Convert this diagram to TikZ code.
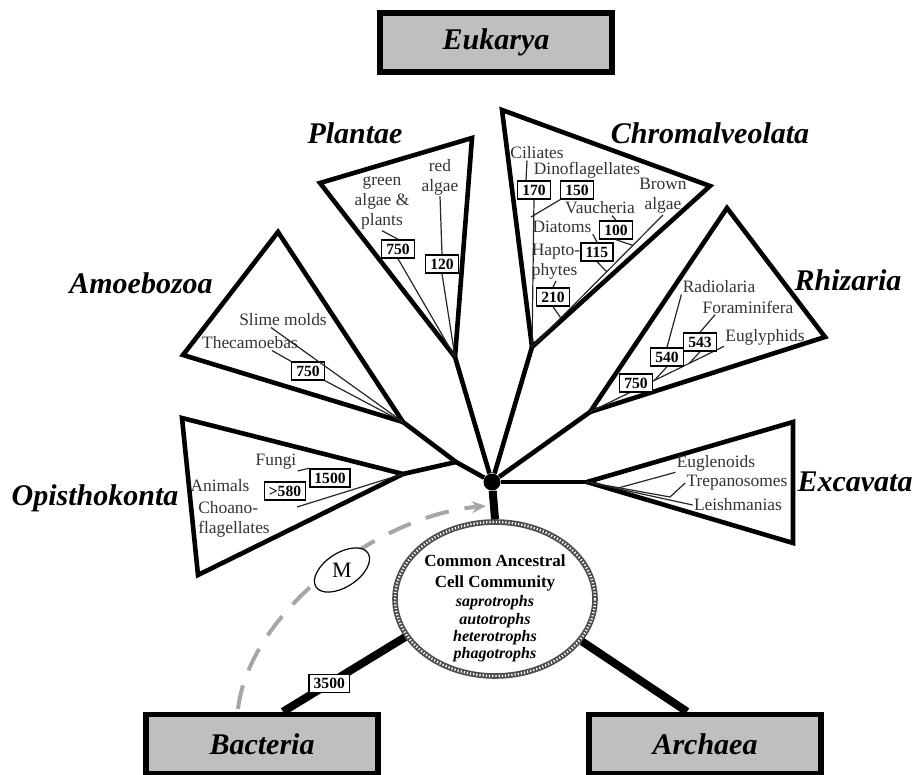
\documentclass[tikz,border=0pt]{standalone}
\usepackage{fontspec}
\setmainfont{Liberation Serif}
\usetikzlibrary{positioning}
\usetikzlibrary{shapes.geometric,arrows.meta}

\tikzset{
  clade/.style={font=\fontsize{15}{17}\selectfont\bfseries\itshape, inner sep=0pt},
  domainbox/.style={draw, line width=2.8pt, fill=black!25, minimum width=116pt, minimum height=29.5pt, inner sep=0pt, font=\fontsize{15}{17}\selectfont\bfseries\itshape},
  taxon/.style={font=\fontsize{8.7}{10}\selectfont, text=black!80, inner sep=0.5pt},
  age/.style={draw, line width=0.75pt, fill=white, font=\fontsize{7.8}{8}\selectfont\bfseries, inner xsep=2.3pt, inner ysep=0pt, minimum height=9pt},
  limb/.style={line width=2.3pt},
  twig/.style={line width=0.6pt, black!85},
  rope/.style={draw=black!70, line width=2.8pt, postaction={draw=white, line width=1.2pt, dash pattern=on 0.6pt off 1pt}},
}

\begin{document}
\begin{tikzpicture}[x=0.5pt, y=-0.5pt]
\useasboundingbox (0,0) rectangle (916,775);

\coordinate (pl1) at (320,183); \coordinate (pl2) at (472,138); \coordinate (pl3) at (455,357);
\coordinate (ch1) at (502,110); \coordinate (ch2) at (710,186); \coordinate (ch3) at (532,347);
\coordinate (am1) at (278,232); \coordinate (am2) at (183,355); \coordinate (am3) at (403,422);
\coordinate (rh1) at (727,208); \coordinate (rh2) at (825,337); \coordinate (rh3) at (590,412);
\coordinate (op1) at (182,418); \coordinate (op2) at (198,575); \coordinate (op3) at (403,474);
\coordinate (ex1) at (793,422); \coordinate (ex2) at (793,543); \coordinate (ex3) at (587,482);

\node[domainbox] (euk) at (496,42.5) {Eukarya};
\node[domainbox] (bact) at (262,744) {Bacteria};
\node[domainbox] (arch) at (705,744) {Archaea};

\node[clade] (plantae) at (355,133) {Plantae};
\node[clade] (chromalv) at (710,133) {Chromalveolata};
\node[clade] (amoebo) at (141,283) {Amoebozoa};
\node[clade] (rhiz) at (848,280) {Rhizaria};
\node[clade] (opist) at (95,498) {Opisthokonta};
\node[clade] (excav) at (855,482) {Excavata};

\draw[limb] (pl1) -- (pl2) -- (pl3) -- cycle;
\draw[limb] (ch1) -- (ch2) -- (ch3) -- cycle;
\draw[limb] (am1) -- (am2) -- (am3) -- cycle;
\draw[limb] (rh1) -- (rh2) -- (rh3) -- cycle;
\draw[limb] (op1) -- (op2) -- (op3) -- cycle;
\draw[limb] (ex1) -- (ex2) -- (ex3) -- cycle;

\node[circle, fill, inner sep=0pt, minimum size=8.5pt] (root) at (492,482) {};
\coordinate (j1) at (456,462);
\draw[limb] (am3) -- (j1) -- (root);
\draw[limb] (op3) -- (j1);
\draw[limb] (pl3) -- (root);
\draw[limb] (ch3) -- (root);
\draw[limb] (rh3) -- (root);
\draw[limb] (ex3) -- (root);

\node[ellipse, rope, minimum width=100pt, minimum height=77pt, inner sep=0pt] (cac) at (495,599) {};
\draw[line width=4pt] (root) -- (cac.north);
\node[align=center, font=\fontsize{8.5}{10.5}\selectfont\bfseries] (cachead) at (495,573) {Common Ancestral\\Cell Community};
\node[align=center, font=\fontsize{8}{8.7}\selectfont\bfseries\itshape] (cactroph) at (495,629) {saprotrophs\\autotrophs\\heterotrophs\\phagotrophs};

\draw[line width=4pt] (cac.203) -- node[age, pos=0.62] (b3500) {3500} ([xshift=10.5pt]bact.north);
\draw[line width=4pt] (cac.334) -- ([xshift=-9pt]arch.north);

\coordinate (mtip) at (486,506);
\draw[black!35, line width=2pt, dash pattern=on 12pt off 8pt, -{Stealth[length=7pt, width=6pt]}] ([xshift=-12pt, yshift=1.4pt]bact.north) .. controls (250,610) and (380,515) .. (mtip);
\node[draw, ellipse, fill=white, line width=0.6pt, minimum width=31pt, minimum height=17pt, inner sep=0pt, rotate=33] (mring) at (342,570) {};
\node[font=\fontsize{11}{12}\selectfont] (mlabel) at (mring.center) {M};

\node[taxon, align=center] (greenalg) at (382,203) {green\\algae \&\\plants};
\node[taxon, align=center] (redalg) at (440,177) {red\\algae};
\node[age] (pl750) at (398,249) {750};
\node[age] (pl120) at (442,264) {120};
\draw[twig] (greenalg.south) -- (pl750.north);
\draw[twig] (pl750.south) -- (pl3);
\draw[twig] (redalg.south) -- (pl120.north);
\draw[twig] (pl120.south) -- (pl3);

\node[taxon] (cilia) at (537,153) {Ciliates};
\node[taxon] (dino) at (587,170) {Dinoflagellates};
\node[taxon, align=center] (brown) at (663,196) {Brown\\algae};
\node[taxon] (vauch) at (600,208) {Vaucheria};
\node[taxon] (diat) at (562,227) {Diatoms};
\node[taxon, align=left] (hapto) at (556,262) {Hapto-\\phytes};
\node[age] (ch170) at (534,190) {170};
\node[age] (ch150) at (577,190) {150};
\node[age] (ch100) at (616,230) {100};
\node[age] (ch115) at (597,252) {115};
\node[age] (ch210) at (553,297) {210};
\coordinate (chj) at (531,217);
\draw[twig] ([xshift=-5pt]cilia.south) -- ([xshift=-4pt]ch170.north);
\draw[twig] (ch170.south) -- (ch3);
\draw[twig] (ch150.south west) -- (chj);
\draw[twig] (brown.south) -- coordinate[pos=0.23] (bj100) coordinate[pos=0.43] (bj115) coordinate[pos=0.78] (bj210) (ch3);
\draw[twig] ([xshift=6pt]vauch.south) -- (ch100.north);
\draw[twig] (ch100.south) -- (bj100);
\draw[twig] (diat.south east) -- (ch115.north);
\draw[twig] (ch115.south) -- (bj115);
\draw[twig] (hapto.south) -- (ch210.north);
\draw[twig] (ch210.south) -- (bj210);

\node[taxon] (radio) at (719,287) {Radiolaria};
\node[taxon] (foram) at (748,307) {Foraminifera};
\node[taxon] (eugly) at (765,337) {Euglyphids};
\draw[twig] (eugly.south west) -- coordinate[pos=0.26] (rj543) coordinate[pos=0.52] (rj540) (rh3);
\node[age] (rh540) at (667,357) {540};
\node[age] (rh543) at (700,342) {543};
\node[age] (rh750) at (636,383) {750};
\draw[twig] (radio.south west) -- (rh540.north);
\draw[twig] ([xshift=7pt]foram.south west) -- (rh543.north);
\draw[twig] (rh540.south) -- (rj540);
\draw[twig] (rh543.south) -- (rj543);

\node[taxon] (slime) at (283,320) {Slime molds};
\node[taxon] (theca) at (250,343) {Thecamoebas};
\node[age] (am750) at (308,371) {750};
\draw[twig] ([xshift=-6pt]slime.south) -- (am3);
\draw[twig] ([xshift=11pt]theca.south) -- (am750.north west);
\draw[twig] (am750.south east) -- (am3);

\node[taxon] (fungi) at (276,462) {Fungi};
\node[taxon] (anim) at (220,486) {Animals};
\node[taxon, align=left] (choano) at (234,519) {Choano-\\flagellates};
\coordinate (opc) at (297,507);
\draw[twig] (opc) -- (op3);
\node[age] (op1500) at (330,478) {1500};
\node[age] (op580) at (285,491) {>580};
\draw[twig] (fungi.south east) -- (op1500.north west);

\node[taxon] (eugle) at (716,463) {Euglenoids};
\node[taxon] (trepa) at (737,483) {Trepanosomes};
\node[taxon] (leish) at (738,505) {Leishmanias};
\coordinate (exk) at (670,497);
\draw[twig] (ex3) -- coordinate[pos=0.28] (exj) (leish.west);
\draw[twig] (ex3) -- (exk) -- (trepa.west);
\draw[twig] (exj) -- (eugle.south west);
\end{tikzpicture}
\end{document}
